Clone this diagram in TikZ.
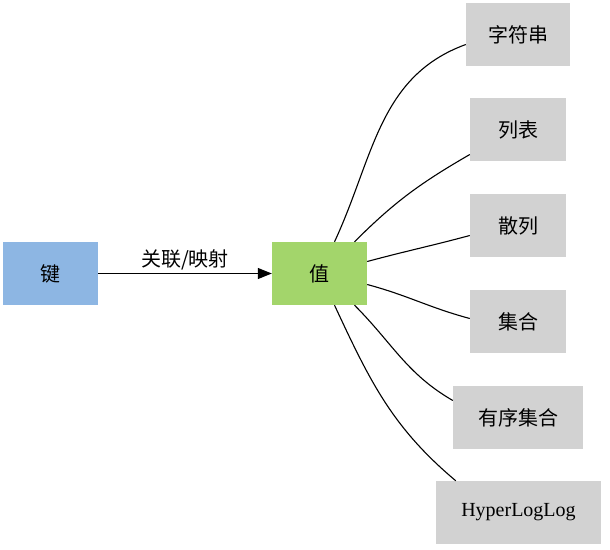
\documentclass[tikz,border=0pt]{standalone}
\usepackage{fontspec}
\newfontfamily\cjk{Noto Sans CJK SC}
\setmainfont{Liberation Serif}
\usetikzlibrary{arrows.meta}
\begin{document}
\begin{tikzpicture}[x=1pt,y=-1pt,
  box/.style={draw=none,minimum height=63pt,inner sep=0pt,font=\cjk\fontsize{20}{24}\selectfont},
  typ/.style={box,fill=gray!35},
  link/.style={draw=black,line width=1.1pt}]
\useasboundingbox (0,0) rectangle (610,549);
\node[box,fill={rgb,255:red,141;green,182;blue,227},minimum width=95pt] (k) at (50.5,273.5) {键};
\node[box,fill={rgb,255:red,163;green,213;blue,107},minimum width=95pt] (v) at (319.5,273.5) {值};
\node[typ,minimum width=104pt] (s) at (518,34.5) {字符串};
\node[typ,minimum width=96pt] (l) at (518,129.5) {列表};
\node[typ,minimum width=96pt] (h) at (518,225.5) {散列};
\node[typ,minimum width=96pt] (c) at (518,321.5) {集合};
\node[typ,minimum width=130pt] (z) at (518,417.5) {有序集合};
\node[typ,minimum width=165pt,font=\fontsize{20}{24}\selectfont] (g) at (518.5,512.5) {HyperLogLog};
\draw[link,-{Triangle[length=14pt,width=11pt]}] (k) -- node[above,font=\cjk\fontsize{20}{24}\selectfont]{关联/映射} (v);
\draw[link] ([xshift=15pt]v.north) to[out=65,in=200] ([yshift=-10pt]s.west);
\draw[link] ([xshift=35pt]v.north) to[out=45,in=210] ([yshift=-25pt]l.west);
\draw[link] ([yshift=12pt]v.east) to[out=15,in=195] ([yshift=-10pt]h.west);
\draw[link] ([yshift=-11pt]v.east) to[out=-15,in=165] ([yshift=3pt]c.west);
\draw[link] ([xshift=35pt]v.south) to[out=-45,in=150] ([yshift=17pt]z.west);
\draw[link] ([xshift=15pt]v.south) to[out=-65,in=140] ([xshift=20pt]g.north west);
\end{tikzpicture}
\end{document}
